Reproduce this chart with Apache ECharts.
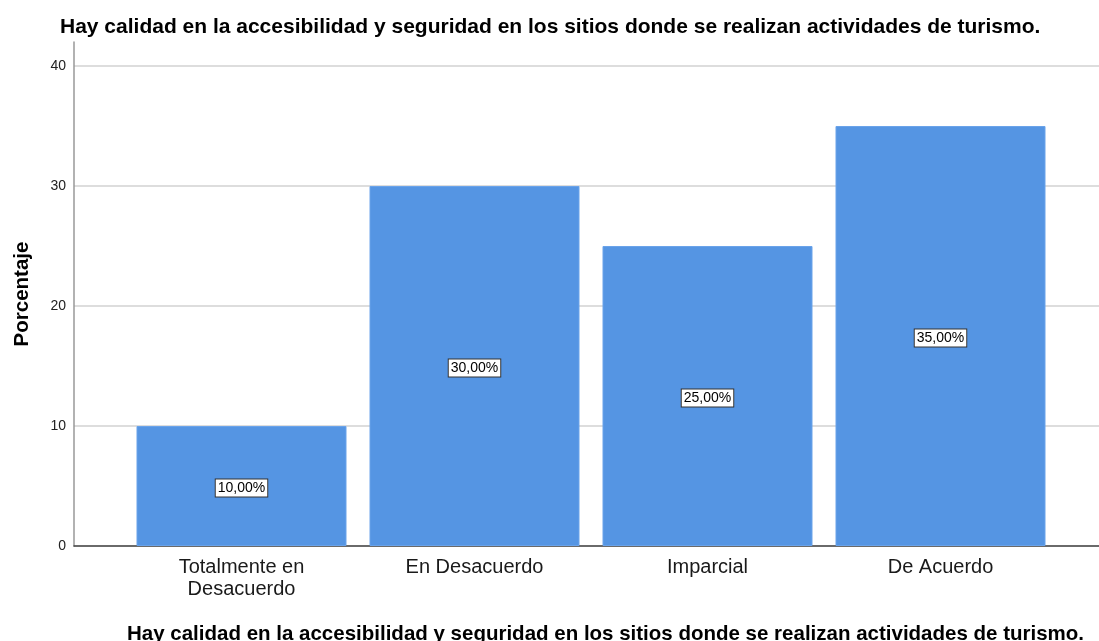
<!DOCTYPE html>
<html>
<head>
<meta charset="utf-8">
<script src="https://cdn.jsdelivr.net/npm/echarts@6/dist/echarts.min.js"></script>
<style>
  html, body { margin: 0; padding: 0; background: #fff; }
  #chart { width: 1099px; height: 641px; }
</style>
</head>
<body>
<div id="chart"></div>
<script>
const titleText = 'Hay calidad en la accesibilidad y seguridad en los sitios donde se realizan actividades de turismo.';
const categories = ['Totalmente en\nDesacuerdo', 'En Desacuerdo', 'Imparcial', 'De Acuerdo'];
const percentages = [10, 30, 25, 35];
const yTicks = [0, 10, 20, 30, 40];

const myChart = echarts.init(document.getElementById('chart'));
const font = '"Liberation Sans", Arial, sans-serif';

const option = {
  animation: false,
  title: [
    {
      text: titleText,
      left: 55,
      top: 12,
      textStyle: { fontFamily: font, fontSize: 21, fontWeight: 'bold', color: '#000' }
    },
    {
      text: titleText,
      left: 122,
      top: 619,
      textStyle: { fontFamily: font, fontSize: 20.5, fontWeight: 'bold', color: '#000' }
    }
  ],
  grid: [
    // axes frame: y axis line, grid lines, base line
    { left: 74, right: 0, top: 42, bottom: 95 },
    // bars, narrower so categories line up
    { left: 125, width: 932, top: 42, bottom: 95 }
  ],
  xAxis: [
    {
      gridIndex: 0,
      type: 'value',
      min: 0,
      max: 1,
      axisLine: { show: true, lineStyle: { color: '#444', width: 1.5 } },
      axisTick: { show: false },
      axisLabel: { show: false },
      splitLine: { show: false }
    },
    {
      gridIndex: 1,
      type: 'category',
      data: categories,
      axisLine: { show: false },
      axisTick: { show: false },
      axisLabel: {
        fontFamily: font,
        fontSize: 20,
        color: '#1a1a1a',
        lineHeight: 22,
        margin: 10
      }
    }
  ],
  yAxis: [
    {
      gridIndex: 0,
      type: 'value',
      min: 0,
      max: 42,
      interval: 10,
      name: 'Porcentaje',
      nameLocation: 'middle',
      nameRotate: 90,
      nameGap: 41,
      nameTextStyle: { fontFamily: font, fontSize: 20.5, fontWeight: 'bold', color: '#000' },
      axisLine: { show: true, lineStyle: { color: '#999', width: 1.5 } },
      axisTick: { show: false },
      axisLabel: {
        fontFamily: font,
        fontSize: 14,
        color: '#222',
        margin: 8,
        showMaxLabel: false,
        formatter: v => (yTicks.indexOf(v) >= 0 ? String(v) : '')
      },
      splitLine: { show: true, showMaxLine: false, lineStyle: { color: '#d2d2d2', width: 1.5 } }
    },
    {
      gridIndex: 1,
      type: 'value',
      min: 0,
      max: 42,
      show: false
    }
  ],
  series: [
    {
      type: 'bar',
      xAxisIndex: 1,
      yAxisIndex: 1,
      data: percentages,
      barWidth: 210,
      itemStyle: { color: '#5595e3', borderColor: '#6aa3ea', borderWidth: 1 },
      label: {
        show: true,
        position: 'inside',
        offset: [0, 2],
        formatter: p => p.value.toFixed(2).replace('.', ',') + '%',
        fontFamily: font,
        fontSize: 14,
        color: '#000',
        backgroundColor: '#fff',
        borderColor: '#333',
        borderWidth: 1,
        padding: [2, 2, 1, 2]
      }
    }
  ]
};
myChart.setOption(option);
</script>
</body>
</html>
